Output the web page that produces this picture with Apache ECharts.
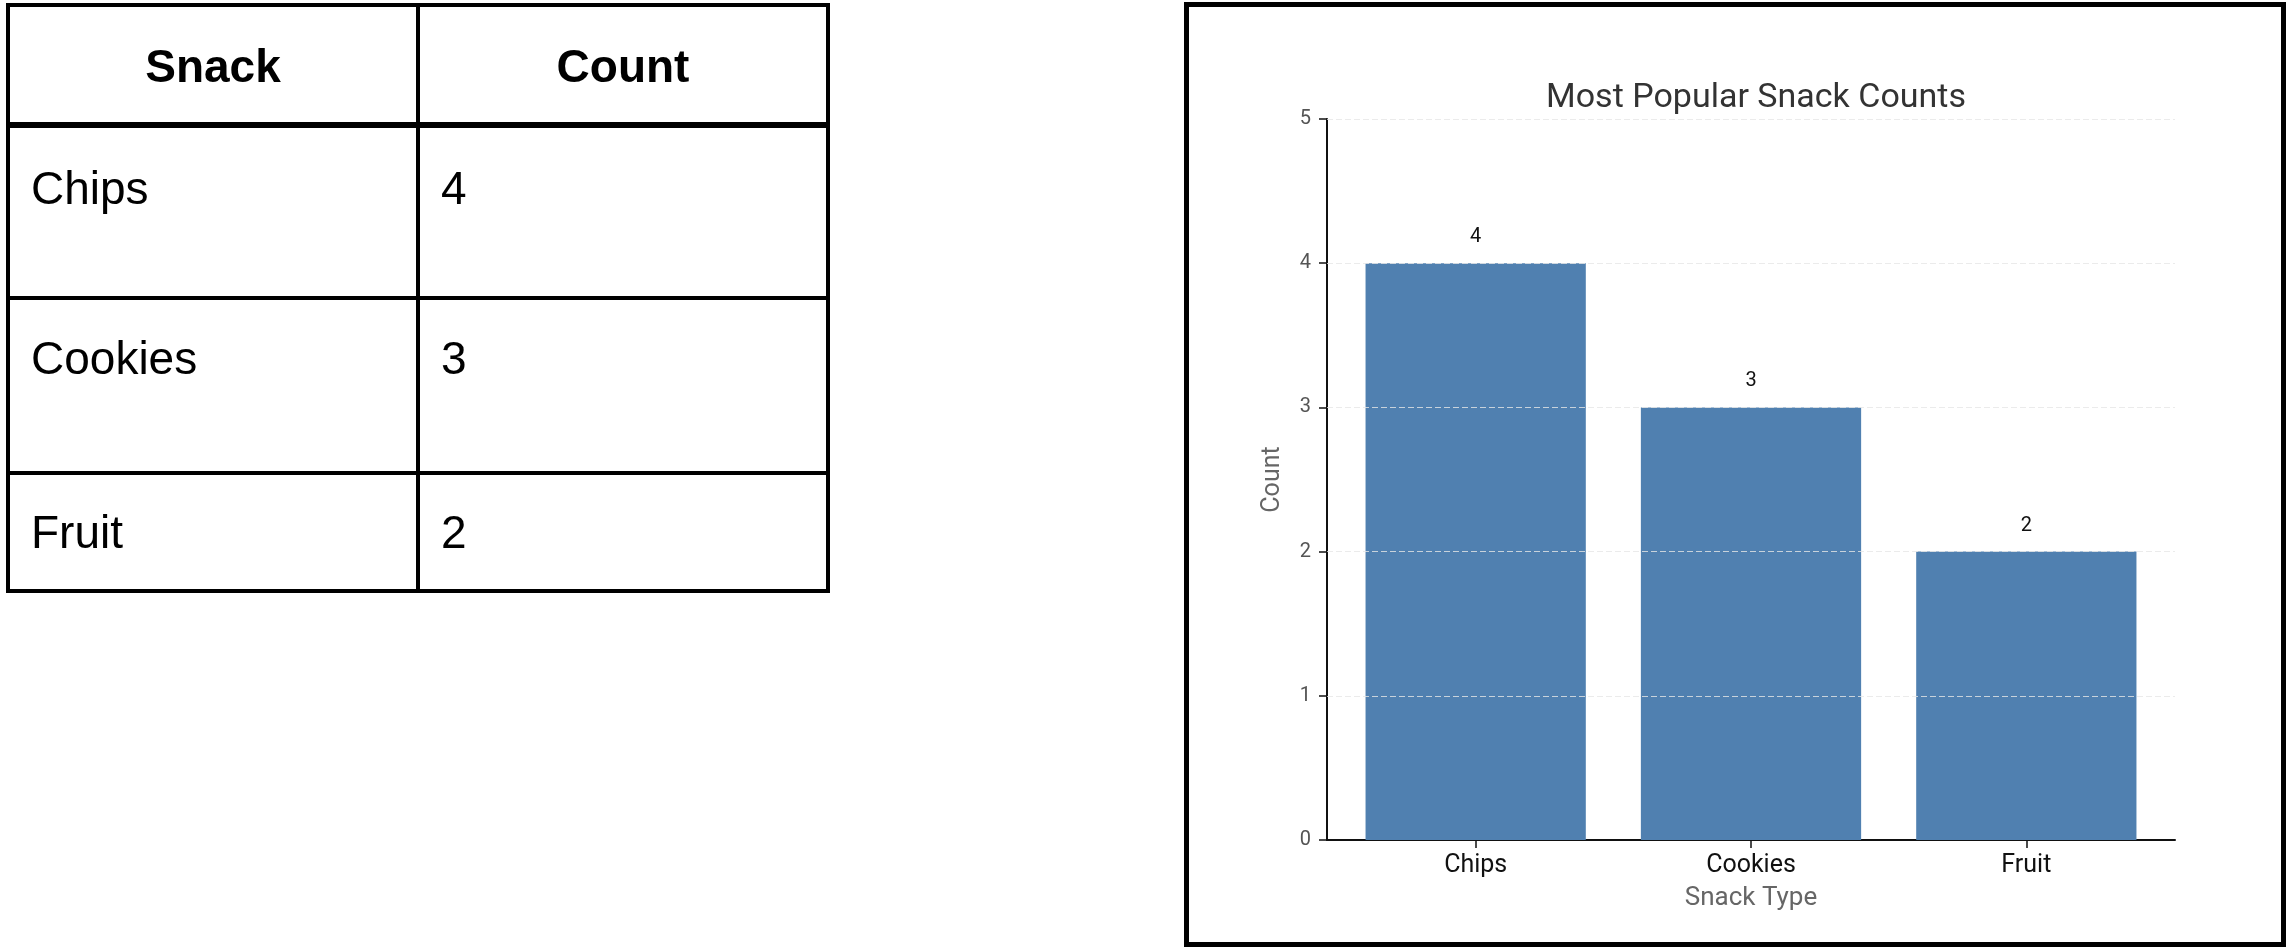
<!DOCTYPE html>
<html>
<head>
<meta charset="utf-8">
<script src="https://cdn.jsdelivr.net/npm/echarts@6/dist/echarts.min.js"></script>
<style>
  html, body { margin: 0; padding: 0; background: #fff; }
  #page { position: relative; width: 2289px; height: 948px; overflow: hidden; }
  #chart { position: absolute; left: 0; top: 0; width: 2289px; height: 948px; }
  .line { position: absolute; background: #000; }
  .cell {
    position: absolute;
    font-family: "Liberation Sans", Arial, sans-serif;
    font-size: 46px;
    line-height: 46px;
    color: #000;
    white-space: nowrap;
  }
  .head { font-weight: bold; text-align: center; }
  #box {
    position: absolute; left: 1184px; top: 2px; width: 1102px; height: 945px;
    box-sizing: border-box; border: 5px solid #000;
  }
</style>
</head>
<body>
<div id="page">
  <div id="box"></div>
  <div id="chart"></div>
  <div id="table"></div>
</div>
<script>
// data
const snacks = ["Chips", "Cookies", "Fruit"];
const counts = [4, 3, 2];
const yTicks = [0, 1, 2, 3, 4, 5];
const headers = ["Snack", "Count"];

// ---- table (left) ----
const table = document.getElementById("table");
function addDiv(cls, style, text) {
  const d = document.createElement("div");
  d.className = cls;
  Object.assign(d.style, style);
  if (text !== undefined) d.textContent = text;
  table.appendChild(d);
  return d;
}
// borders
addDiv("line", { left: "6px", top: "3px", width: "824px", height: "4px" });
addDiv("line", { left: "6px", top: "589px", width: "824px", height: "4px" });
addDiv("line", { left: "6px", top: "3px", width: "4px", height: "590px" });
addDiv("line", { left: "826px", top: "3px", width: "4px", height: "590px" });
addDiv("line", { left: "416px", top: "3px", width: "4px", height: "590px" });
addDiv("line", { left: "6px", top: "122px", width: "824px", height: "6px" });
addDiv("line", { left: "6px", top: "296px", width: "824px", height: "4px" });
addDiv("line", { left: "6px", top: "471px", width: "824px", height: "4px" });

// header
addDiv("cell head", { left: "10px", width: "406px", top: "43px" }, headers[0]);
addDiv("cell head", { left: "420px", width: "406px", top: "43px" }, headers[1]);

// rows
const rowTops = [165, 335, 509];
snacks.forEach(function (s, i) {
  addDiv("cell", { left: "31px", top: rowTops[i] + "px" }, s);
  addDiv("cell", { left: "441px", top: rowTops[i] + "px" }, String(counts[i]));
});

// ---- bar chart (right) ----
const chart = echarts.init(document.getElementById("chart"));
const font = "Roboto";

const option = {
  animation: false,
  title: {
    text: "Most Popular Snack Counts",
    left: 1751,
    textAlign: "center",
    top: 76,
    textStyle: { fontFamily: font, fontSize: 34, fontWeight: "normal", color: "#333" },
  },
  grid: { left: 1327, right: 114, top: 119, bottom: 108, containLabel: false },
  xAxis: {
    type: "value",
    min: -0.54,
    max: 2.54,
    name: "Snack Type",
    nameLocation: "middle",
    nameGap: 45,
    nameTextStyle: { fontFamily: font, fontSize: 26, color: "#666" },
    axisLine: { show: true, lineStyle: { color: "#111", width: 2 } },
    axisTick: {
      show: true,
      customValues: [0, 1, 2],
      length: 8,
      lineStyle: { color: "#111", width: 1.5 },
    },
    axisLabel: {
      customValues: [0, 1, 2],
      margin: 13,
      fontFamily: font,
      fontSize: 25,
      color: "#111",
      formatter: function (v) {
        return snacks[Math.round(v)];
      },
    },
    splitLine: { show: false },
  },
  yAxis: {
    type: "value",
    min: 0,
    max: 5,
    interval: 1,
    name: "Count",
    nameLocation: "middle",
    nameGap: 42,
    nameTextStyle: { fontFamily: font, fontSize: 25, color: "#666" },
    axisLine: { show: true, onZero: false, lineStyle: { color: "#111", width: 2 } },
    axisTick: { show: true, length: 8, lineStyle: { color: "#111", width: 1.5 } },
    axisLabel: {
      margin: 16,
      fontFamily: font,
      fontSize: 20,
      color: "#555",
    },
    splitLine: { show: false },
  },
  series: [
    {
      type: "bar",
      barWidth: "80%",
      data: snacks.map(function (s, i) {
        return [i, counts[i]];
      }),
      itemStyle: { color: "#5080b0" },
      label: {
        show: true,
        position: "top",
        distance: 16,
        fontFamily: font,
        fontSize: 20,
        color: "#111",
      },
      // dashed grid drawn above the bars
      markLine: {
        silent: true,
        symbol: "none",
        z: 10,
        label: { show: false },
        lineStyle: { color: "#e6e6e6", opacity: 0.8, type: [6, 3], width: 1.2 },
        data: yTicks.slice(1).map(function (v) {
          return { yAxis: v };
        }),
      },
    },
  ],
};

chart.setOption(option);
</script>
</body>
</html>
